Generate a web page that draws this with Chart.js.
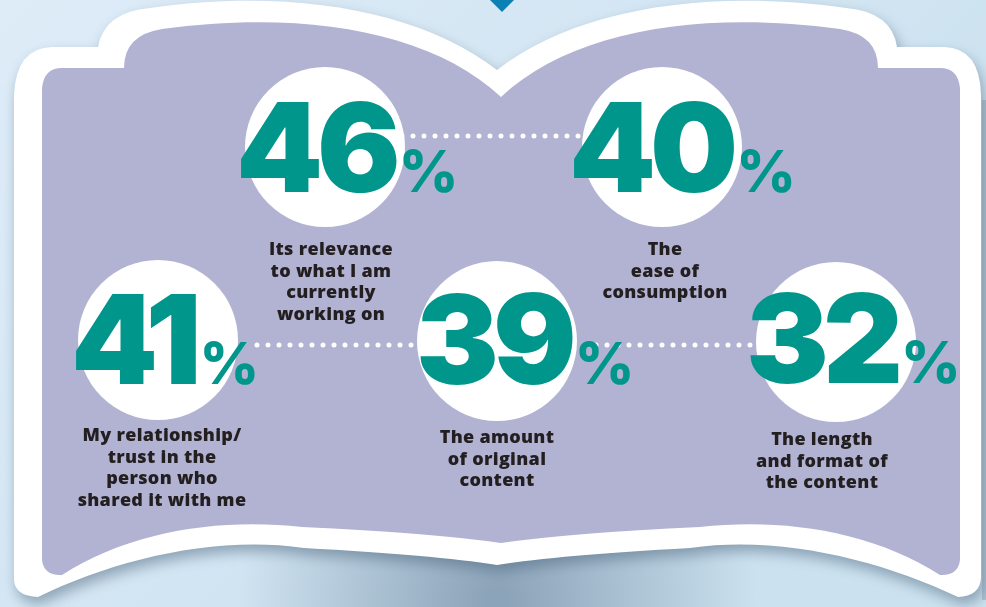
<!DOCTYPE html>
<html>
<head>
<meta charset="utf-8">
<script src="https://cdn.jsdelivr.net/npm/chart.js@4.4.1/dist/chart.umd.min.js"></script>
<style>
  html, body { margin: 0; padding: 0; background: #cfe3f0; }
  canvas { display: block; }
</style>
</head>
<body>
<canvas id="myChart" width="986" height="607"></canvas>
<script>
// data
const categories = [
    ["Its relevance", "to what I am", "currently", "working on"],
    ["The", "ease of", "consumption"],
    ["My relationship/", "trust in the", "person who", "shared it with me"],
    ["The amount", "of original", "content"],
    ["The length", "and format of", "the content"]
];
const values = [46, 40, 41, 39, 32];
const links = [[0, 1], [2, 3], [3, 4]];

// layout of the infographic (scale units = pixels)
const slots = [
    { cx: 325, cy: 147, ndx: -89, ndy: 45, ldx: 6, ldy: 103 },
    { cx: 662, cy: 147, ndx: -93, ndy: 45, ldx: 3, ldy: 103 },
    { cx: 158, cy: 340, ndx: -87, ndy: 44, ldx: 4, ldy: 96 },
    { cx: 497, cy: 341, ndx: -81, ndy: 43, ldx: 0, ldy: 97 },
    { cx: 836, cy: 342, ndx: -90, ndy: 41, ldx: -14, ldy: 98 }
];
const linkRows = [{ y: 136, start: 0 }, { y: 345, start: 99 }, { y: 345, start: 99 }];

const TEAL = "#00968c";
const PURPLE = "#b2b2d3";
const INK = "#231f20";

const bookPlugin = {
    id: "book",
    beforeDraw(chart) {
        const c = chart.ctx;
        const w = chart.width, h = chart.height;
        const bg = c.createLinearGradient(0, 0, w * 0.6, h);
        bg.addColorStop(0, "#deecf8");
        bg.addColorStop(1, "#cbe1ef");
        c.save();
        c.fillStyle = bg;
        c.fillRect(0, 0, w, h);

        // darker strip at the right edge
        c.fillStyle = "rgba(120,140,160,0.35)";
        c.fillRect(982, 100, 4, 500);

        // soft shadow below the book
        const sh = c.createRadialGradient(497, 600, 10, 497, 600, 260);
        sh.addColorStop(0, "rgba(105,130,155,0.65)");
        sh.addColorStop(1, "rgba(110,135,160,0)");
        c.fillStyle = sh;
        c.fillRect(150, 520, 700, 87);

        // white outer page
        c.shadowColor = "rgba(70,95,120,0.5)";
        c.shadowBlur = 14;
        c.shadowOffsetX = 3;
        c.shadowOffsetY = 7;
        c.fillStyle = "#ffffff";
        c.beginPath();
        c.moveTo(14, 580);
        c.lineTo(14, 95);
        c.quadraticCurveTo(16, 48, 52, 47);
        c.lineTo(98, 47);
        c.quadraticCurveTo(104, 12, 150, 8);
        c.bezierCurveTo(290, -12, 420, 10, 497, 70);
        c.bezierCurveTo(574, 10, 704, -12, 846, 8);
        c.quadraticCurveTo(892, 12, 897, 47);
        c.lineTo(944, 47);
        c.quadraticCurveTo(980, 48, 981, 95);
        c.lineTo(981, 578);
        c.quadraticCurveTo(980, 596, 958, 597);
        c.bezierCurveTo(880, 560, 780, 535, 690, 548);
        c.quadraticCurveTo(560, 555, 497, 565);
        c.quadraticCurveTo(434, 555, 304, 548);
        c.bezierCurveTo(214, 535, 114, 560, 38, 597);
        c.quadraticCurveTo(15, 596, 14, 580);
        c.closePath();
        c.fill();
        c.shadowColor = "transparent";

        // purple inner page
        c.fillStyle = PURPLE;
        c.beginPath();
        c.moveTo(42, 560);
        c.lineTo(42, 88);
        c.quadraticCurveTo(44, 68, 62, 68);
        c.lineTo(124, 68);
        c.quadraticCurveTo(124, 35, 162, 29);
        c.bezierCurveTo(300, 10, 430, 30, 501, 97);
        c.bezierCurveTo(572, 30, 702, 10, 840, 29);
        c.quadraticCurveTo(878, 35, 878, 68);
        c.lineTo(940, 68);
        c.quadraticCurveTo(958, 68, 960, 88);
        c.lineTo(960, 560);
        c.quadraticCurveTo(958, 576, 940, 575);
        c.bezierCurveTo(870, 530, 780, 518, 700, 527);
        c.quadraticCurveTo(570, 533, 501, 543);
        c.quadraticCurveTo(432, 533, 302, 527);
        c.bezierCurveTo(222, 518, 132, 530, 62, 575);
        c.quadraticCurveTo(44, 576, 42, 560);
        c.closePath();
        c.fill();

        // little marker at top
        c.fillStyle = "#0b80b4";
        c.beginPath();
        c.moveTo(490, 0);
        c.lineTo(514, 0);
        c.lineTo(502, 12);
        c.closePath();
        c.fill();
        c.restore();
    }
};

const textPlugin = {
    id: "numbers",
    afterDatasetsDraw(chart) {
        const c = chart.ctx;
        const meta = chart.getDatasetMeta(0);
        c.save();
        meta.data.forEach((pt, i) => {
            const s = slots[i];
            const nx = pt.x + s.ndx, ny = pt.y + s.ndy;
            c.fillStyle = TEAL;
            c.textAlign = "left";
            c.textBaseline = "alphabetic";
            c.font = "900 124px Inter";
            c.letterSpacing = "-6px";
            const num = String(values[i]);
            c.fillText(num, nx, ny);
            const wNum = c.measureText(num).width;
            c.font = "800 58px Inter";
            c.letterSpacing = "0px";
            c.fillText("%", nx + wNum + 4, ny);

            c.fillStyle = INK;
            c.textAlign = "center";
            c.textBaseline = "middle";
            c.font = "800 18px 'Open Sans'";
            c.letterSpacing = "0.3px";
            categories[i].forEach((line, k) => {
                c.fillText(line, pt.x + s.ldx, pt.y + s.ldy + k * 21.5);
            });
        });
        c.restore();
    }
};

const ctx = document.getElementById("myChart");
const myChart = new Chart(ctx, {
    type: "scatter",
    data: {
        datasets: [
            {
                label: "Circles",
                data: slots.map(s => ({ x: s.cx, y: s.cy })),
                pointRadius: 80,
                pointHoverRadius: 80,
                backgroundColor: "#ffffff",
                borderWidth: 0,
                order: 1,
                clip: false
            },
            ...links.map(([a, b], i) => ({
                type: "line",
                label: "link" + i,
                data: [
                    { x: slots[a].cx + linkRows[i].start, y: linkRows[i].y },
                    { x: slots[b].cx, y: linkRows[i].y }
                ],
                borderColor: "#ffffff",
                borderWidth: 5,
                borderDash: [0, 11],
                borderCapStyle: "round",
                pointRadius: 0,
                fill: false,
                order: 2,
                clip: false
            }))
        ]
    },
    options: {
        responsive: false,
        animation: false,
        events: [],
        layout: { padding: 0, autoPadding: false },
        plugins: { legend: { display: false }, tooltip: { enabled: false } },
        scales: {
            x: { type: "linear", min: 0, max: 986, display: false },
            y: { type: "linear", min: 0, max: 607, reverse: true, display: false }
        }
    },
    plugins: [bookPlugin, textPlugin]
});
</script>
</body>
</html>
